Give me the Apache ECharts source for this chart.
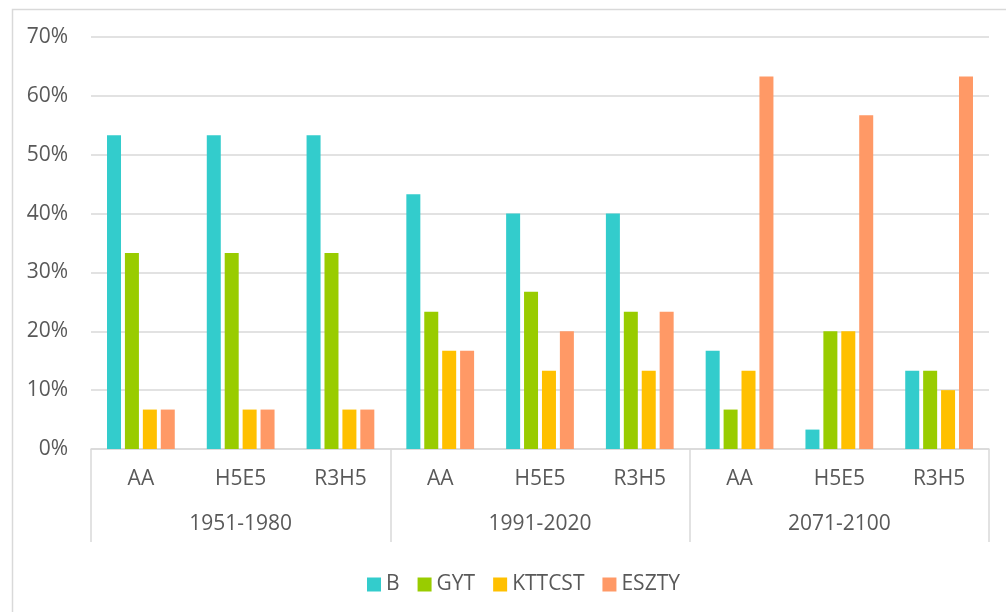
<!DOCTYPE html>
<html><head><meta charset="utf-8">
<script src="https://cdn.jsdelivr.net/npm/echarts@6/dist/echarts.min.js"></script>
<style>html,body{margin:0;padding:0;background:#fff}#c{width:1006px;height:612px}</style>
</head><body><div id="c"></div>
<script>
const categories = ['AA','H5E5','R3H5','AA','H5E5','R3H5','AA','H5E5','R3H5'];
const groups = ['1951-1980','1991-2020','2071-2100'];
const seriesNames = ['B','GYT','KTTCST','ESZTY'];
const B      = [53.3, 53.3, 53.3, 43.3, 40.0, 40.0, 16.7,  3.3, 13.3];
const GYT    = [33.3, 33.3, 33.3, 23.3, 26.7, 23.3,  6.7, 20.0, 13.3];
const KTTCST = [ 6.7,  6.7,  6.7, 16.7, 13.3, 13.3, 13.3, 20.0, 10.0];
const ESZTY  = [ 6.7,  6.7,  6.7, 16.7, 20.0, 23.3, 63.3, 56.7, 63.3];
const yTicks = [0,10,20,30,40,50,60,70];
const colors = ['#33CCCC','#99CC00','#FFC000','#FF9966'];
const values = [B, GYT, KTTCST, ESZTY];

const font = '"Open Sans", "DejaVu Sans", sans-serif';
const chart = echarts.init(document.getElementById('c'), null, {renderer:'canvas'});
chart.setOption({
  animation:false,
  color: colors,
  textStyle:{fontFamily:font},
  graphic:[{type:'rect', left:10, top:7, shape:{x:0,y:0,width:1010,height:620}, style:{fill:'none', stroke:'#d9d9d9', lineWidth:1.5}, z:-1}],
  grid:{left:91, right:17, top:37, bottom:163},
  legend:{
    data: seriesNames, left:362, top:569, itemWidth:14, itemHeight:14, itemGap:18,
    icon:'rect', textStyle:{fontSize:21, color:'#595959', fontFamily:font}
  },
  yAxis:{
    type:'value', min:yTicks[0], max:yTicks[yTicks.length-1], interval:10,
    axisLabel:{formatter:'{value}%', fontSize:21, color:'#595959', margin:23, fontFamily:font},
    splitLine:{lineStyle:{color:'#d9d9d9', width:1.5}},
    axisLine:{show:false}, axisTick:{show:false}
  },
  xAxis:[
    {type:'category', data:categories, position:'bottom', offset:0,
     axisLine:{lineStyle:{color:'#d9d9d9', width:1.5}}, axisTick:{show:false},
     axisLabel:{fontSize:21, color:'#595959', margin:20, interval:0, fontFamily:font}},
    {type:'category', data:groups, position:'bottom', offset:0,
     axisLine:{show:false},
     axisTick:{show:true, length:93, interval:0, lineStyle:{color:'#d9d9d9', width:1.5}},
     axisLabel:{fontSize:21, color:'#595959', margin:65, interval:0, fontFamily:font}}
  ],
  series: seriesNames.map((n,i)=>({
    name:n, type:'bar', data:values[i], xAxisIndex:0,
    barWidth:14, barGap:'28%',
    itemStyle:{color:colors[i]}
  }))
});
</script></body></html>
